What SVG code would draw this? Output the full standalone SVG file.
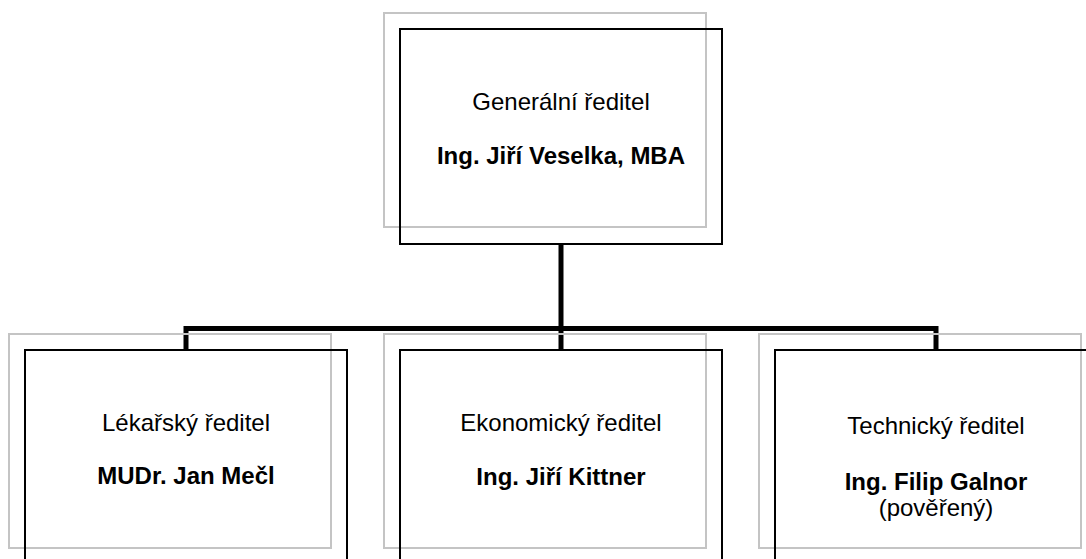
<svg xmlns="http://www.w3.org/2000/svg" width="1086" height="559" viewBox="0 0 1086 559">
  <style>
    .shadow { fill: none; stroke: #c4c4c4; stroke-width: 2; }
    .box { fill: none; stroke: #000; stroke-width: 2; }
    .conn { fill: none; stroke: #000; stroke-width: 5; stroke-linejoin: miter; stroke-linecap: butt; }
    .t { font-family: "Liberation Sans", Arial, sans-serif; font-size: 24px; fill: #000; text-anchor: middle; }
    .b { font-weight: bold; }
  </style>
  <rect width="1086" height="559" fill="#fff"/>
  <g id="connectors">
    <path class="conn" d="M561,244 V328"/>
    <path class="conn" d="M186,351 V328.5 H936 V351"/>
    <path class="conn" d="M561,328 V351"/>
  </g>
  <g id="node-generalni">
    <rect class="shadow" x="384" y="13" width="322" height="214"/>
    <rect class="box" x="400" y="29" width="322" height="215"/>
    <text class="t" x="561" y="110">Generální ředitel</text>
    <text class="t b" x="561" y="164">Ing. Jiří Veselka, MBA</text>
  </g>
  <g id="node-lekarsky">
    <rect class="shadow" x="9" y="334" width="322" height="214"/>
    <rect class="box" x="25" y="350" width="322" height="215"/>
    <text class="t" x="186" y="431">Lékařský ředitel</text>
    <text class="t b" x="186" y="484">MUDr. Jan Mečl</text>
  </g>
  <g id="node-ekonomicky">
    <rect class="shadow" x="384" y="334" width="322" height="214"/>
    <rect class="box" x="400" y="350" width="322" height="215"/>
    <text class="t" x="561" y="431">Ekonomický ředitel</text>
    <text class="t b" x="561" y="485">Ing. Jiří Kittner</text>
  </g>
  <g id="node-technicky">
    <rect class="shadow" x="759" y="334" width="322" height="214"/>
    <rect class="box" x="775" y="350" width="322" height="215"/>
    <text class="t" x="936" y="434">Technický ředitel</text>
    <text class="t b" x="936" y="490">Ing. Filip Galnor</text>
    <text class="t" x="936" y="516">(pověřený)</text>
  </g>
</svg>
